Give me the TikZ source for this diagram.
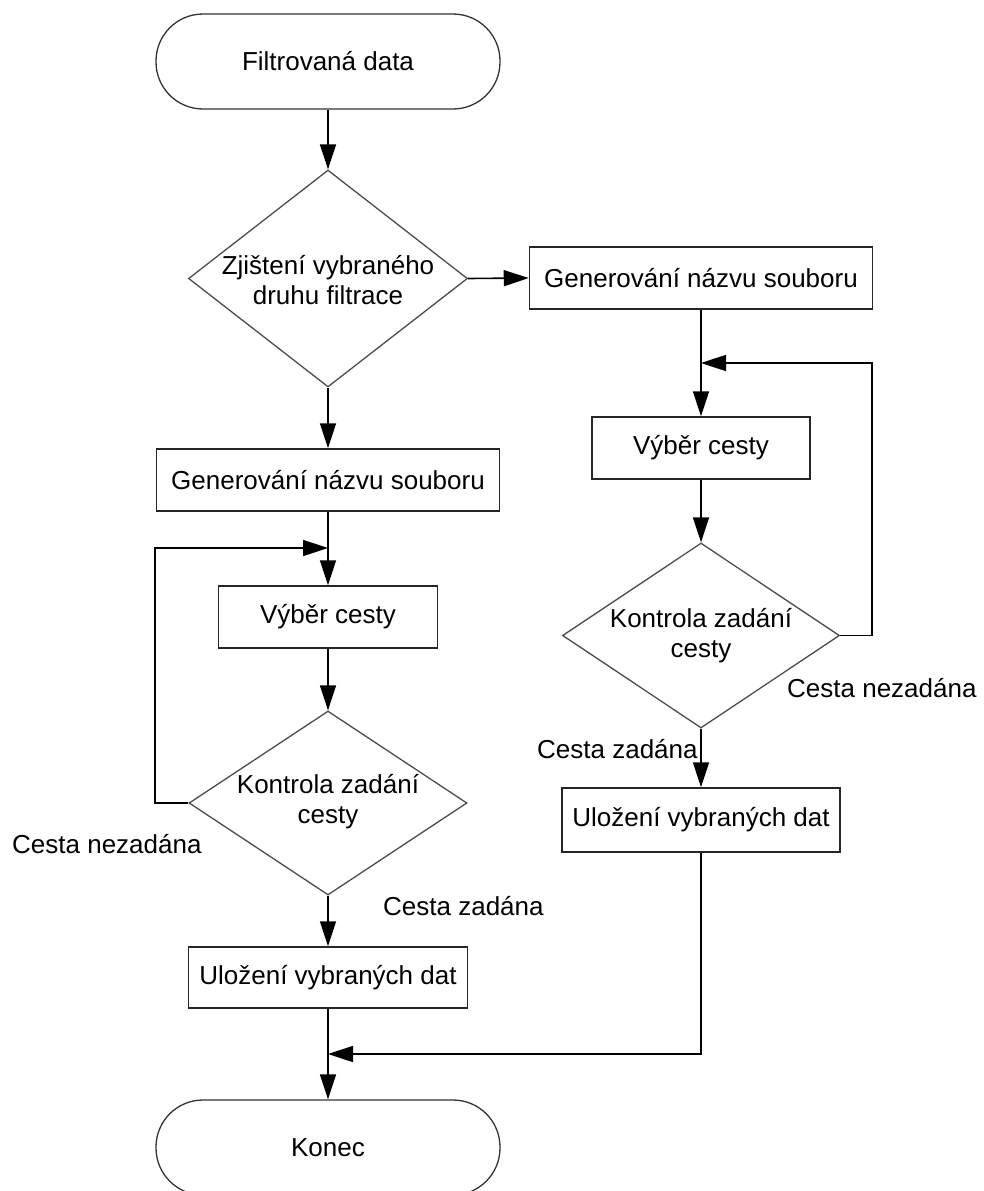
\documentclass[tikz,border=0pt]{standalone}
\usepackage{fontspec}
\setmainfont{Liberation Sans}
\usetikzlibrary{arrows.meta,shapes.geometric}
\begin{document}
\begin{tikzpicture}[x=1pt,y=-1pt, font=\fontsize{26}{30}\selectfont,
  box/.style={draw=black!85, line width=1.5pt, inner sep=0pt, minimum height=62pt},
  term/.style={draw=black!80, line width=1.3pt, rounded corners=47pt, minimum width=344pt, minimum height=95pt, inner sep=0pt},
  dia/.style={diamond, draw=black!70, line width=1.3pt, inner sep=0pt},
  conn/.style={line width=1.6pt, -{Triangle[length=25pt,width=16pt]}},
  lbl/.style={anchor=base west, inner sep=0pt}]
\useasboundingbox[fill=white] (0,0) rectangle (984,1191);
% nodes
\node[term] (start) at (328,61.5) {Filtrovaná data};
\node[dia, minimum width=279pt, minimum height=217pt] (d1) at (328,278.5) {};
\node[align=center, inner sep=0pt] (d1t) at (328,280) {Zjištení vybraného\\druhu filtrace};
\node[box, minimum width=343pt] (rgen) at (701,278) {Generování názvu souboru};
\node[box, minimum width=343pt] (lgen) at (328,480) {Generování názvu souboru};
\node[box, minimum width=219pt] (lvyb) at (328,617) {Výběr cesty};
\node[dia, minimum width=278pt, minimum height=184pt] (ld) at (328,803) {};
\node[align=center, inner sep=0pt] (ldt) at (328,802) {Kontrola zadání\\cesty};
\node[box, minimum width=279pt, minimum height=61pt] (luloz) at (328,977.5) {Uložení vybraných dat};
\node[term] (konec) at (328,1147.5) {Konec};
\node[box, minimum width=218pt] (rvyb) at (701,448) {Výběr cesty};
\node[dia, minimum width=277pt, minimum height=185pt] (rd) at (701,635.5) {};
\node[align=center, inner sep=0pt] (rdt) at (701,636) {Kontrola zadání\\cesty};
\node[box, minimum width=278pt, minimum height=64pt] (ruloz) at (701,820) {Uložení vybraných dat};
% labels
\node[lbl] (l1) at (12,853) {Cesta nezadána};
\node[lbl] (l2) at (383,915) {Cesta zadána};
\node[lbl] (l3) at (787,697) {Cesta nezadána};
\node[lbl] (l4) at (537,758) {Cesta zadána};
% helper coordinates
\coordinate (lj) at (328,548);
\coordinate (lc1) at (155,803);
\coordinate (lc2) at (155,548);
\coordinate (rj) at (701,363);
\coordinate (rc1) at (872,635.5);
\coordinate (rc2) at (872,363);
\coordinate (bj) at (328,1054);
\coordinate (bc) at (701,1054);
% connectors
\draw[conn] (start.south) -- (d1.north);
\draw[conn] (d1.east) -- (rgen.west);
\draw[conn] (d1.south) -- (lgen.north);
\draw[conn] (lgen.south) -- (lvyb.north);
\draw[conn] (ld.west) -- (lc1) -- (lc2) -- (lj);
\draw[conn] (lvyb.south) -- (ld.north);
\draw[conn] (ld.south) -- (luloz.north);
\draw[conn] (luloz.south) -- (konec.north);
\draw[conn] (rgen.south) -- (rvyb.north);
\draw[conn] (rd.east) -- (rc1) -- (rc2) -- (rj);
\draw[conn] (rvyb.south) -- (rd.north);
\draw[conn] (rd.south) -- (ruloz.north);
\draw[conn] (ruloz.south) -- (bc) -- (bj);
\end{tikzpicture}
\end{document}
